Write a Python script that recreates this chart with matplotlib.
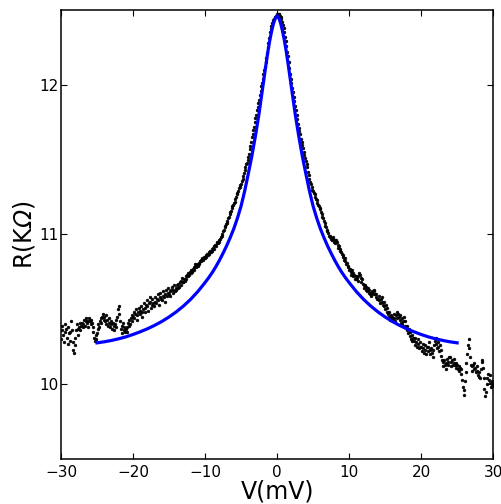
import numpy as np
import matplotlib
matplotlib.use("Agg")
import matplotlib.pyplot as plt

# Omega in the y label is slanted in the original -> oblique math roman
plt.rcParams["mathtext.fontset"] = "custom"
plt.rcParams["mathtext.rm"] = "DejaVu Sans:italic"
plt.rcParams["mathtext.it"] = "DejaVu Sans:italic"

# ---- measured data (dots), one row per 1 mV, step 0.1 mV ----------------
V_START, V_STEP = -30.0, 0.1
R_DATA = [
    10.30, 10.36, 10.39, 10.33, 10.28, 10.35, 10.40, 10.37, 10.31, 10.27,  # -30
    10.38, 10.34, 10.29, 10.35, 10.42, 10.36, 10.28, 10.23, 10.21, 10.26,  # -29
    10.31, 10.36, 10.40, 10.37, 10.33, 10.38, 10.41, 10.36, 10.39, 10.41,  # -28
    10.38, 10.40, 10.43, 10.39, 10.42, 10.44, 10.41, 10.38, 10.42, 10.44,  # -27
    10.42, 10.40, 10.43, 10.41, 10.38, 10.35, 10.31, 10.29, 10.33, 10.30,  # -26
    10.34, 10.37, 10.40, 10.38, 10.42, 10.44, 10.41, 10.45, 10.47, 10.43,  # -25
    10.45, 10.42, 10.46, 10.40, 10.43, 10.39, 10.44, 10.41, 10.38, 10.42,  # -24
    10.40, 10.37, 10.41, 10.39, 10.36, 10.40, 10.43, 10.38, 10.45, 10.50,  # -23
    10.52, 10.47, 10.42, 10.37, 10.34, 10.39, 10.41, 10.38, 10.36, 10.35,  # -22
    10.37, 10.35, 10.38, 10.41, 10.39, 10.43, 10.40, 10.44, 10.46, 10.42,  # -21
    10.45, 10.48, 10.44, 10.47, 10.50, 10.46, 10.43, 10.48, 10.51, 10.47,  # -20
    10.49, 10.52, 10.48, 10.45, 10.50, 10.54, 10.51, 10.48, 10.53, 10.56,  # -19
    10.52, 10.49, 10.54, 10.58, 10.55, 10.51, 10.53, 10.57, 10.54, 10.52,  # -18
    10.55, 10.58, 10.54, 10.57, 10.60, 10.56, 10.53, 10.58, 10.61, 10.57,  # -17
    10.56, 10.59, 10.62, 10.58, 10.55, 10.60, 10.63, 10.59, 10.61, 10.64,  # -16
    10.60, 10.62, 10.59, 10.63, 10.65, 10.61, 10.63, 10.66, 10.62, 10.64,  # -15
    10.63, 10.66, 10.64, 10.67, 10.65, 10.68, 10.66, 10.69, 10.71, 10.68,  # -14
    10.68, 10.70, 10.69, 10.72, 10.70, 10.73, 10.72, 10.74, 10.73, 10.75,  # -13
    10.74, 10.76, 10.75, 10.77, 10.76, 10.78, 10.80, 10.79, 10.78, 10.80,  # -12
    10.79, 10.81, 10.80, 10.82, 10.83, 10.82, 10.84, 10.83, 10.85, 10.84,  # -11
    10.84, 10.86, 10.85, 10.87, 10.86, 10.88, 10.87, 10.89, 10.88, 10.90,  # -10
    10.89, 10.91, 10.90, 10.92, 10.93, 10.92, 10.94, 10.95, 10.94, 10.96,  # -9
    10.95, 10.97, 10.98, 10.99, 11.00, 11.02, 11.03, 11.05, 11.06, 11.07,  # -8
    11.08, 11.09, 11.11, 11.12, 11.14, 11.15, 11.16, 11.18, 11.19, 11.20,  # -7
    11.21, 11.22, 11.24, 11.25, 11.27, 11.28, 11.29, 11.31, 11.32, 11.33,  # -6
    11.34, 11.36, 11.37, 11.39, 11.41, 11.43, 11.45, 11.47, 11.48, 11.50,  # -5
    11.52, 11.54, 11.57, 11.59, 11.62, 11.65, 11.67, 11.70, 11.72, 11.75,  # -4
    11.78, 11.80, 11.83, 11.85, 11.88, 11.90, 11.93, 11.96, 11.99, 12.01,  # -3
    12.04, 12.07, 12.10, 12.12, 12.15, 12.18, 12.21, 12.25, 12.28, 12.31,  # -2
    12.35, 12.37, 12.39, 12.41, 12.42, 12.43, 12.44, 12.45, 12.46, 12.46,  # -1
    12.47, 12.47, 12.47, 12.47, 12.46, 12.45, 12.44, 12.42, 12.40, 12.38,  # 0
    12.35, 12.32, 12.29, 12.26, 12.22, 12.19, 12.15, 12.11, 12.07, 12.04,  # 1
    12.01, 11.98, 11.95, 11.92, 11.89, 11.86, 11.83, 11.80, 11.77, 11.74,  # 2
    11.71, 11.69, 11.67, 11.64, 11.62, 11.60, 11.58, 11.55, 11.53, 11.51,  # 3
    11.49, 11.47, 11.45, 11.42, 11.40, 11.37, 11.35, 11.34, 11.32, 11.30,  # 4
    11.29, 11.28, 11.27, 11.25, 11.24, 11.23, 11.21, 11.20, 11.19, 11.18,  # 5
    11.17, 11.15, 11.14, 11.12, 11.11, 11.09, 11.08, 11.06, 11.05, 11.03,  # 6
    11.02, 11.01, 10.99, 10.98, 10.99, 10.97, 10.96, 10.98, 10.97, 10.95,  # 7
    10.96, 10.94, 10.96, 10.95, 10.93, 10.91, 10.92, 10.90, 10.89, 10.88,  # 8
    10.87, 10.85, 10.86, 10.83, 10.84, 10.82, 10.80, 10.81, 10.78, 10.79,  # 9
    10.76, 10.77, 10.75, 10.73, 10.76, 10.74, 10.72, 10.73, 10.70, 10.72,  # 10
    10.70, 10.71, 10.69, 10.72, 10.74, 10.73, 10.71, 10.68, 10.70, 10.67,  # 11
    10.66, 10.64, 10.66, 10.63, 10.65, 10.62, 10.64, 10.61, 10.63, 10.60,  # 12
    10.61, 10.59, 10.62, 10.60, 10.63, 10.62, 10.60, 10.58, 10.60, 10.57,  # 13
    10.57, 10.59, 10.56, 10.54, 10.57, 10.55, 10.58, 10.53, 10.55, 10.52,  # 14
    10.50, 10.53, 10.48, 10.51, 10.47, 10.45, 10.48, 10.43, 10.46, 10.44,  # 15
    10.45, 10.43, 10.47, 10.44, 10.42, 10.46, 10.48, 10.44, 10.47, 10.45,  # 16
    10.43, 10.46, 10.41, 10.44, 10.40, 10.42, 10.45, 10.39, 10.42, 10.38,  # 17
    10.36, 10.39, 10.34, 10.37, 10.32, 10.35, 10.30, 10.33, 10.29, 10.31,  # 18
    10.29, 10.26, 10.31, 10.28, 10.25, 10.30, 10.27, 10.24, 10.28, 10.25,  # 19
    10.25, 10.22, 10.27, 10.24, 10.21, 10.26, 10.23, 10.20, 10.25, 10.22,  # 20
    10.25, 10.28, 10.23, 10.20, 10.24, 10.21, 10.18, 10.23, 10.26, 10.29,  # 21
    10.31, 10.27, 10.24, 10.28, 10.25, 10.22, 10.26, 10.23, 10.19, 10.16,  # 22
    10.15, 10.12, 10.16, 10.13, 10.10, 10.14, 10.17, 10.13, 10.15, 10.18,  # 23
    10.18, 10.15, 10.12, 10.16, 10.13, 10.14, 10.17, 10.13, 10.11, 10.14,  # 24
    10.13, 10.10, 10.12, 10.09, 10.11, 10.10, 10.07, 10.03, 9.98, 9.93,    # 25
    9.96, 10.02, 10.08, 10.14, 10.20, 10.26, 10.30, 10.24, 10.18, 10.13,   # 26
    10.12, 10.09, 10.13, 10.10, 10.14, 10.11, 10.08, 10.12, 10.09, 10.06,  # 27
    10.05, 10.08, 10.04, 10.10, 10.15, 10.16, 10.11, 10.04, 9.97, 9.92,    # 28
    9.95, 10.00, 10.04, 10.07, 10.03, 10.06, 10.01, 9.98, 10.02, 9.99,     # 29
    10.00,                                                                 # 30
]
V_DATA = V_START + V_STEP * np.arange(len(R_DATA))

# ---- fitted curve (blue), symmetric about 0 ----------------------------
V_FIT_HALF = [0, 0.25, 0.5, 0.75, 1, 1.25, 1.5, 1.75, 2, 2.5, 3, 3.5, 4,
              4.5, 5, 5.5, 6, 6.5, 7, 7.5, 8, 8.5, 9, 9.5, 10, 11, 12, 13,
              14, 15, 16, 17, 18, 19, 20, 21, 22, 23, 24, 25]
R_FIT_HALF = [12.46, 12.445, 12.41, 12.36, 12.30, 12.23, 12.15, 12.065,
              11.98, 11.81, 11.66, 11.525, 11.405, 11.29, 11.19, 11.11,
              11.04, 10.98, 10.925, 10.875, 10.828, 10.785, 10.746, 10.711,
              10.679, 10.619, 10.567, 10.522, 10.483, 10.449, 10.419,
              10.393, 10.37, 10.35, 10.332, 10.316, 10.303, 10.292, 10.283,
              10.276]
V_FIT = [-v for v in V_FIT_HALF[:0:-1]] + V_FIT_HALF
R_FIT = R_FIT_HALF[:0:-1] + R_FIT_HALF

X_TICKS = [-30, -20, -10, 0, 10, 20, 30]
Y_TICKS = [10, 11, 12]

fig = plt.figure(figsize=(5.01, 5.04), dpi=100)
ax = fig.add_axes([0.1218, 0.0893, 0.8625, 0.8909])

ax.plot(V_DATA, R_DATA, "o", color="black", markersize=2.0,
        markeredgewidth=0.4, zorder=2)
ax.plot(V_FIT, R_FIT, "-", color="#0000ff", lw=2.3, zorder=3,
        solid_joinstyle="round")

ax.set_xlim(-30, 30)
ax.set_ylim(9.5, 12.5)
ax.set_xticks(X_TICKS)
ax.set_yticks(Y_TICKS)
ax.tick_params(direction="in", length=4, width=0.8, top=True, right=True,
               labelsize=11)
ax.tick_params(axis="y", pad=1.5)
ax.tick_params(axis="x", pad=4)
for s in ax.spines.values():
    s.set_linewidth(1.1)

ax.set_xlabel("V(mV)", fontsize=17, labelpad=0)
ax.set_ylabel(r"R(K$\Omega$)", fontsize=17, labelpad=2)

fig.savefig("out.png", dpi=100)
